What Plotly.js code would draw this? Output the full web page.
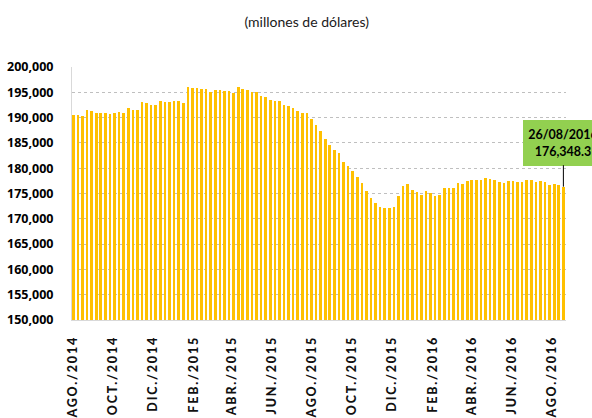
<!DOCTYPE html>
<html>
<head>
<meta charset="utf-8">
<script src="https://cdn.plot.ly/plotly-3.0.1.min.js"></script>
<style>
  body { margin: 0; background: #fff; }
  #chart { width: 592px; height: 418px; }
  .xtick text { letter-spacing: 1.8px; }
</style>
</head>
<body>
<div id="chart"></div>
<script>
// weekly reserves, first Friday shown and weekly after that
const firstWeek = '2014-08-08';
const reserves = [
  190500, 190500, 190300, 191600, 191400, 191000, 191000, 190850, 190650, 191000,
  191200, 190850, 191900, 191550, 191500, 193000, 192800, 192450, 192450, 193200,
  193050, 193100, 193200, 193200, 192900, 196100, 195800, 195800, 195700, 195750,
  195050, 195500, 195550, 195300, 195250, 194930, 196050, 195650, 195400, 195070,
  195000, 194340, 194000, 193430, 193300, 193300, 192500, 192300, 191850, 191400,
  190870, 190870, 189800, 188440, 187400, 185800, 184630, 183580, 183060, 181150,
  180370, 179380, 178270, 177000, 175580, 174130, 173220, 172300, 172040, 172040,
  172370, 174600, 176430, 176830, 175790, 175390, 174800, 175530, 175070, 174470,
  174800, 176050, 176180, 176180, 177040, 176840, 177570, 177760, 177760, 177760,
  178090, 177900, 177700, 177370, 177170, 177430, 177430, 177370, 177370, 177700,
  177630, 177240, 177430, 177370, 176640, 176780, 176640, 176348.3
];

const tickDates = [
  '2014-08-08', '2014-10-08', '2014-12-08', '2015-02-08', '2015-04-08', '2015-06-08',
  '2015-08-08', '2015-10-08', '2015-12-08', '2016-02-08', '2016-04-08', '2016-06-08',
  '2016-08-08'
];
const tickLabels = [
  'AGO./2014', 'OCT./2014', 'DIC./2014', 'FEB./2015', 'ABR./2015', 'JUN./2015',
  'AGO./2015', 'OCT./2015', 'DIC./2015', 'FEB./2016', 'ABR./2016', 'JUN./2016',
  'AGO./2016'
];

const calloutLabel = '26/08/2016';

// one date per bar
const weeks = [];
const start = new Date(firstWeek + 'T00:00:00Z');
for (let i = 0; i < reserves.length; i++) {
    const d = new Date(start.getTime() + i * 7 * 86400000);
    weeks.push(d.toISOString().slice(0, 10));
}

const lastIdx = reserves.length - 1;

const bars = {
    x: weeks,
    y: reserves,
    type: 'bar',
    width: 4 * 86400000,
    marker: { color: '#FFC000' },
    hoverinfo: 'x+y'
};

const layout = {
    width: 592,
    height: 418,
    margin: { l: 72, r: 26, t: 67, b: 98 },
    paper_bgcolor: '#ffffff',
    plot_bgcolor: '#ffffff',
    showlegend: false,
    font: { family: 'Lato, "Open Sans", sans-serif', color: '#000000' },
    title: {
        text: '(millones de dólares)',
        font: { size: 14, color: '#1a1a1a', family: 'Lato, "Open Sans", sans-serif' },
        x: 0.518,
        xref: 'container',
        y: 0.946,
        yref: 'container',
        yanchor: 'middle'
    },
    xaxis: {
        type: 'date',
        range: ['2014-08-06', '2016-08-30'],
        tickvals: tickDates,
        ticktext: tickLabels,
        tickangle: -90,
        tickfont: { size: 12.5, weight: 900, color: '#111111' },
        ticks: '',
        ticklabelstandoff: 10,
        showgrid: false,
        showline: true,
        linecolor: '#D9D9D9',
        linewidth: 1,
        zeroline: false
    },
    yaxis: {
        range: [150000, 200000],
        dtick: 5000,
        tickformat: ',d',
        tickfont: { size: 12.5, weight: 'bold', color: '#000000', family: '"Open Sans", sans-serif' },
        ticks: '',
        ticklabelstandoff: 15,
        showgrid: true,
        gridcolor: '#BFBFBF',
        griddash: 'dot',
        gridwidth: 1,
        showline: true,
        linecolor: '#D9D9D9',
        linewidth: 1,
        zeroline: false
    },
    bargap: 0,
    annotations: [{
        x: weeks[lastIdx],
        y: reserves[lastIdx],
        xref: 'x',
        yref: 'y',
        text: '<b>' + calloutLabel + '<br>' + reserves[lastIdx].toLocaleString('en-US', { minimumFractionDigits: 1 }) + '</b>',
        showarrow: true,
        arrowhead: 0,
        arrowwidth: 1,
        arrowcolor: '#000000',
        ax: 0,
        ay: -44,
        bgcolor: '#92D050',
        bordercolor: '#92D050',
        borderpad: 4,
        width: 70,
        height: 36,
        font: { size: 12.5, color: '#000000', family: 'Lato, "Open Sans", sans-serif' }
    }]
};

Plotly.newPlot('chart', [bars], layout, { displayModeBar: false, staticPlot: true });
</script>
</body>
</html>
